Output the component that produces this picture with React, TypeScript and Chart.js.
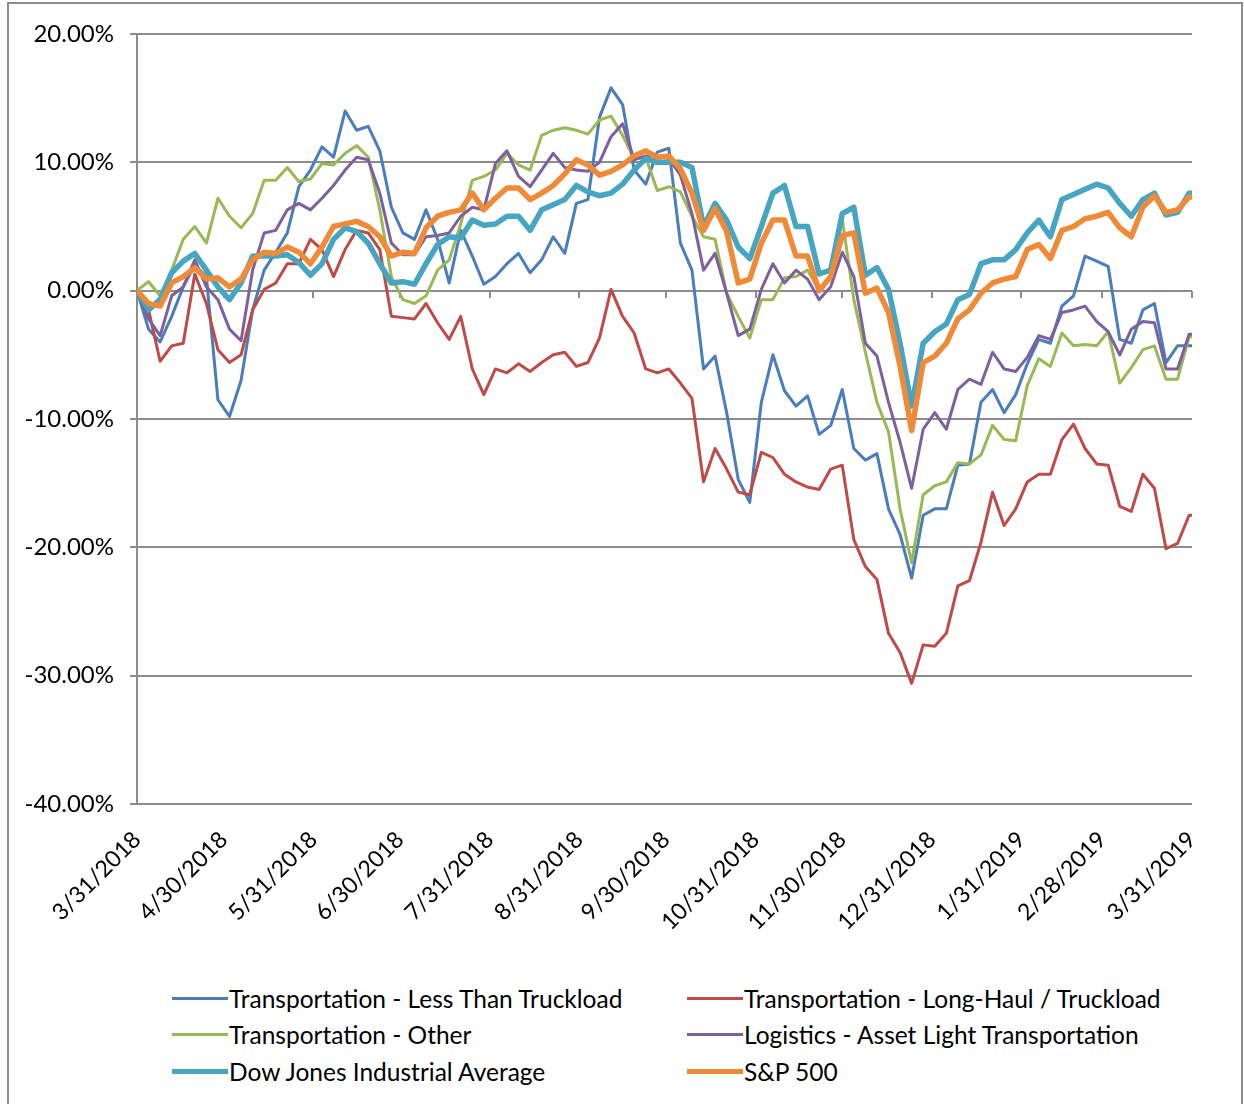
import React, { useEffect, useRef } from "react";
import { Chart, registerables } from "chart.js";

Chart.register(...registerables);

// Day offsets from 3/31/2018
const days = [
  0, 4, 8, 12, 16, 20, 24, 28, 32, 36,
  40, 44, 48, 52, 56, 60, 64, 68, 72, 76,
  80, 84, 88, 92, 96, 100, 104, 108, 112, 116,
  120, 124, 128, 132, 136, 140, 144, 148, 152, 156,
  160, 164, 168, 172, 176, 180, 184, 188, 192, 196,
  200, 204, 208, 212, 216, 220, 224, 228, 232, 236,
  240, 244, 248, 252, 256, 260, 264, 268, 272, 276,
  280, 284, 288, 292, 296, 300, 304, 308, 312, 316,
  320, 324, 328, 332, 336, 340, 344, 348, 352, 356,
  360, 364, 365,
];

const tickDays = [0, 30, 61, 91, 122, 153, 183, 214, 244, 275, 306, 334, 365];
const tickLabels = [
  "3/31/2018", "4/30/2018", "5/31/2018", "6/30/2018", "7/31/2018", "8/31/2018",
  "9/30/2018", "10/31/2018", "11/30/2018", "12/31/2018", "1/31/2019", "2/28/2019", "3/31/2019",
];

const lessThanTruckload = [
  0, -3.0, -4.0, -2.0, 0.3, 2.0, 1.1, -8.5, -9.8, -7.0,
  -1.5, 1.6, 3.0, 4.5, 8.1, 9.4, 11.2, 10.4, 14.0, 12.5,
  12.8, 10.9, 6.5, 4.5, 4.0, 6.3, 4.0, 0.6, 4.7, 2.7,
  0.5, 1.1, 2.1, 2.9, 1.4, 2.4, 4.2, 2.9, 6.8, 7.1,
  13.5, 15.8, 14.5, 9.4, 8.3, 10.8, 11.1, 3.7, 1.6, -6.1,
  -5.1, -9.5, -14.7, -16.5, -8.7, -5.0, -7.8, -9.0, -8.2, -11.2,
  -10.5, -7.7, -12.3, -13.2, -12.7, -17.0, -19.0, -22.4, -17.5, -17.0,
  -17.0, -13.6, -13.5, -8.7, -7.7, -9.5, -8.1, -5.7, -3.8, -4.1,
  -1.2, -0.4, 2.7, 2.3, 1.9, -3.8, -4.1, -1.5, -1.0, -5.6,
  -4.3, -4.3, -4.3,
];

const longHaul = [
  0, -1.5, -5.5, -4.3, -4.1, 1.3, -1.0, -4.6, -5.6, -5.0,
  -1.5, 0.1, 0.6, 2.1, 2.1, 4.0, 3.2, 1.1, 3.2, 4.7,
  4.5, 3.2, -2.0, -2.1, -2.2, -1.0, -2.5, -3.8, -2.0, -6.1,
  -8.1, -6.1, -6.4, -5.7, -6.3, -5.6, -5.0, -4.8, -5.9, -5.6,
  -3.7, 0.1, -2.0, -3.3, -6.1, -6.4, -6.1, -7.2, -8.4, -14.9,
  -12.3, -13.9, -15.7, -15.9, -12.6, -13.0, -14.3, -14.9, -15.3, -15.5,
  -13.9, -13.6, -19.4, -21.5, -22.5, -26.7, -28.2, -30.6, -27.6, -27.7,
  -26.7, -23.0, -22.6, -19.6, -15.7, -18.3, -17.0, -14.9, -14.3, -14.3,
  -11.6, -10.4, -12.3, -13.5, -13.6, -16.8, -17.2, -14.3, -15.4, -20.1,
  -19.7, -17.5, -17.5,
];

const transportOther = [
  0, 0.7, -0.4, 1.6, 4.0, 5.0, 3.7, 7.2, 5.8, 4.9,
  6.0, 8.6, 8.6, 9.6, 8.5, 8.7, 9.9, 9.8, 10.7, 11.3,
  10.4, 6.3, 1.1, -0.7, -1.0, -0.4, 1.6, 2.4, 5.2, 8.6,
  8.9, 9.4, 10.7, 9.8, 9.4, 12.1, 12.5, 12.7, 12.5, 12.2,
  13.3, 13.6, 12.1, 10.3, 10.4, 7.8, 8.1, 7.7, 5.8, 4.2,
  4.0, -0.2, -2.0, -3.7, -0.7, -0.7, 1.0, 1.1, 1.6, 0.0,
  1.1, 5.6, -0.7, -4.8, -8.7, -11.0, -17.0, -21.2, -15.9, -15.2,
  -14.9, -13.4, -13.5, -12.8, -10.5, -11.6, -11.7, -7.4, -5.3, -5.9,
  -3.3, -4.3, -4.2, -4.3, -3.2, -7.2, -6.0, -4.6, -4.3, -6.9,
  -6.9, -3.6, -3.6,
];

const logisticsAssetLight = [
  0, -2.2, -3.5, -0.4, 0.3, 2.4, 0.3, -0.7, -3.0, -3.9,
  1.6, 4.5, 4.7, 6.3, 6.8, 6.3, 7.2, 8.2, 9.4, 10.4,
  10.2, 7.6, 3.7, 2.8, 2.8, 4.2, 4.3, 4.5, 5.8, 6.5,
  6.3, 9.9, 10.9, 8.9, 8.1, 9.4, 10.7, 9.6, 9.4, 9.3,
  10.0, 12.0, 13.0, 10.2, 10.5, 10.5, 10.3, 9.0, 6.0, 1.6,
  2.9, -0.2, -3.5, -3.0, 0.1, 2.1, 0.6, 1.6, 0.9, -0.7,
  0.3, 3.0, 1.1, -4.1, -5.1, -8.7, -11.8, -15.4, -10.8, -9.5,
  -10.8, -7.7, -6.9, -7.3, -4.8, -6.1, -6.3, -5.2, -3.5, -3.8,
  -1.7, -1.5, -1.2, -2.4, -3.2, -5.0, -3.0, -2.4, -2.5, -6.1,
  -6.1, -3.4, -3.4,
];

const dowJones = [
  0, -1.5, -0.7, 1.4, 2.3, 2.9, 1.6, 0.3, -0.7, 0.6,
  2.7, 2.7, 2.7, 2.8, 2.2, 1.2, 2.1, 4.0, 4.9, 4.6,
  3.7, 2.1, 0.6, 0.7, 0.5, 2.1, 3.6, 4.2, 4.1, 5.5,
  5.1, 5.2, 5.8, 5.8, 4.7, 6.3, 6.7, 7.1, 8.2, 7.7,
  7.4, 7.6, 8.3, 9.4, 10.3, 10.0, 10.0, 10.0, 9.6, 5.0,
  6.8, 5.5, 3.4, 2.5, 5.0, 7.6, 8.2, 5.0, 5.0, 1.3,
  1.6, 6.0, 6.5, 1.2, 1.8, 0.1, -4.1, -9.0, -4.1, -3.2,
  -2.6, -0.7, -0.3, 2.1, 2.4, 2.4, 3.2, 4.5, 5.5, 4.2,
  7.1, 7.5, 7.9, 8.3, 8.0, 6.8, 5.8, 7.1, 7.6, 5.9,
  6.1, 7.6, 7.6,
];

const sp500 = [
  0, -1.0, -1.2, 0.6, 1.1, 1.8, 0.9, 1.0, 0.3, 0.9,
  2.4, 3.0, 2.9, 3.4, 3.0, 2.1, 3.4, 5.0, 5.2, 5.4,
  5.0, 4.2, 2.7, 3.0, 2.9, 4.9, 5.8, 6.1, 6.3, 7.6,
  6.3, 7.2, 8.0, 8.0, 7.1, 7.6, 8.2, 9.1, 10.2, 9.8,
  9.0, 9.3, 9.8, 10.5, 10.9, 10.4, 10.5, 9.5, 7.6, 4.7,
  6.4, 4.6, 0.6, 0.9, 3.7, 5.5, 5.5, 2.7, 2.7, 0.0,
  1.1, 4.3, 4.5, -0.2, 0.2, -1.7, -5.9, -10.9, -5.6, -5.1,
  -4.1, -2.2, -1.5, -0.2, 0.6, 0.9, 1.1, 3.2, 3.6, 2.5,
  4.7, 5.0, 5.6, 5.8, 6.1, 4.9, 4.2, 6.5, 7.4, 6.1,
  6.3, 7.3, 7.3,
];

const seriesNames = [
  "Transportation - Less Than Truckload",
  "Transportation - Long-Haul / Truckload",
  "Transportation - Other",
  "Logistics - Asset Light Transportation",
  "Dow Jones Industrial Average",
  "S&P 500",
];
const seriesColors = ["#4A7DBB", "#BE4B48", "#98B954", "#7D60A0", "#46A6C2", "#F08A36"];
const seriesWidths = [3, 3, 3, 3, 5.5, 5.5];
const seriesValues = [lessThanTruckload, longHaul, transportOther, logisticsAssetLight, dowJones, sp500];

const GRID = "#8c8c8c";
const FONT = "Lato";

const zeroTicks = {
  id: "zeroTicks",
  beforeDatasetsDraw(chart: any) {
    const { ctx, scales } = chart;
    const xs = scales.x;
    const y0 = Math.round(scales.y.getPixelForValue(0));
    ctx.save();
    ctx.strokeStyle = GRID;
    ctx.lineWidth = 2;
    tickDays.forEach((d) => {
      const px = Math.round(xs.getPixelForValue(d));
      ctx.beginPath();
      ctx.moveTo(px, y0);
      ctx.lineTo(px, y0 + 7);
      ctx.stroke();
    });
    ctx.restore();
  },
};

export default function App() {
  const canvasRef = useRef<HTMLCanvasElement | null>(null);

  useEffect(() => {
    const canvas = canvasRef.current;
    if (!canvas) return;
    const datasets = seriesValues.map((vals, i) => ({
      label: seriesNames[i],
      data: days.map((d, j) => ({ x: d, y: vals[j] })),
      borderColor: seriesColors[i],
      backgroundColor: seriesColors[i],
      borderWidth: seriesWidths[i],
      borderJoinStyle: "round" as const,
      pointRadius: 0,
      tension: 0,
      fill: false,
      order: seriesValues.length - i,
    }));
    const chart = new Chart(canvas, {
      type: "line",
      data: { datasets },
      options: {
        responsive: false,
        animation: false,
        devicePixelRatio: 1,
        layout: { padding: { top: 34, right: 52, left: 0, bottom: 0 } },
        plugins: { legend: { display: false }, tooltip: { enabled: false } },
        scales: {
          x: {
            type: "linear",
            min: 0,
            max: 365,
            afterBuildTicks: (scale: any) => {
              scale.ticks = tickDays.map((v) => ({ value: v }));
            },
            afterFit: (scale: any) => {
              scale.height = 156;
            },
            grid: { display: false, drawTicks: false },
            border: { display: false },
            ticks: {
              autoSkip: false,
              maxRotation: 45,
              minRotation: 45,
              padding: 22,
              color: "#000",
              font: { family: FONT, size: 23 },
              callback: (_v: any, i: number) => tickLabels[i],
            },
          },
          y: {
            min: -40,
            max: 20,
            afterFit: (scale: any) => {
              scale.width = 137;
            },
            grid: { color: GRID, lineWidth: 2, tickLength: 7, drawTicks: true },
            border: { display: true, color: GRID, width: 2 },
            ticks: {
              stepSize: 10,
              padding: 16,
              color: "#000",
              font: { family: FONT, size: 24 },
              callback: (v: any) => Number(v).toFixed(2) + "%",
            },
          },
        },
      },
      plugins: [zeroTicks],
    });
    return () => chart.destroy();
  }, []);

  const legendRows = [0, 0, 1, 1, 2, 2];
  const legendCols = [0, 1, 0, 1, 0, 1];
  const rowY = [998, 1034, 1071];
  const colLine = [172, 687];

  return (
    <div style={{ position: "absolute", left: 0, top: 0, width: 1244, height: 1104, background: "#fff", overflow: "hidden" }}>
      <div
        style={{
          position: "absolute",
          left: 7,
          top: 2,
          width: 1236,
          height: 1130,
          border: `2px solid ${GRID}`,
          boxSizing: "border-box",
        }}
      />
      <canvas ref={canvasRef} width={1244} height={960} style={{ position: "absolute", left: 0, top: 0, width: 1244, height: 960 }} />
      {seriesNames.map((name, i) => (
        <div
          key={name}
          style={{
            position: "absolute",
            left: colLine[legendCols[i]],
            top: rowY[legendRows[i]] - 15,
            height: 30,
            display: "flex",
            alignItems: "center",
            whiteSpace: "nowrap",
          }}
        >
          <span
            style={{
              display: "inline-block",
              width: 56,
              height: seriesWidths[i] > 4 ? 5 : 3,
              background: seriesColors[i],
            }}
          />
          <span style={{ fontFamily: FONT, fontSize: 24.5, color: "#000", marginLeft: 1 }}>{name}</span>
        </div>
      ))}
    </div>
  );
}
